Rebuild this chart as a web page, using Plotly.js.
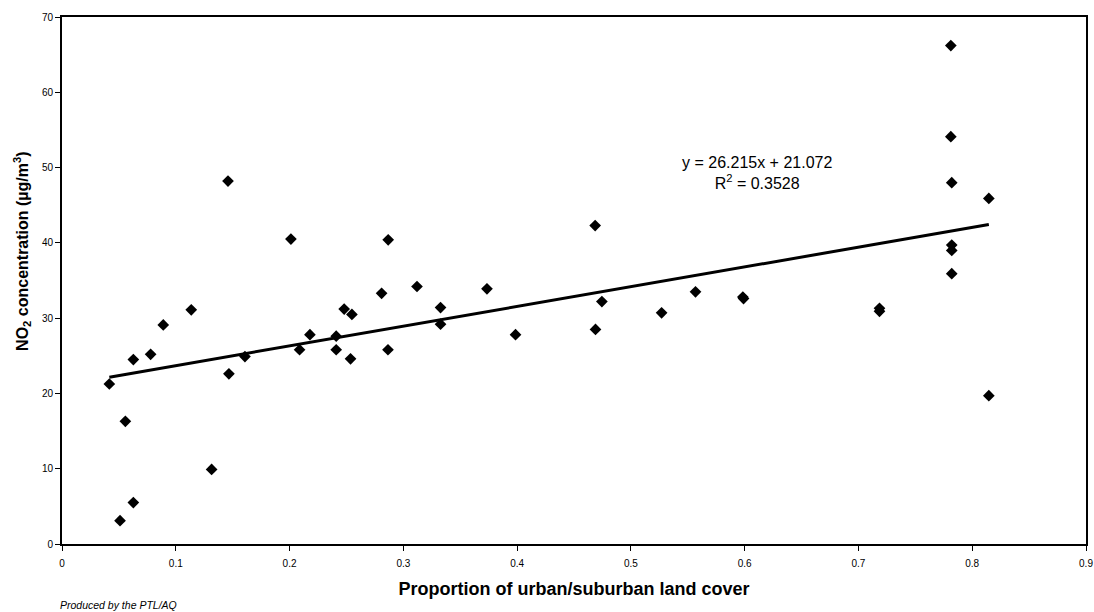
<!DOCTYPE html>
<html>
<head>
<meta charset="utf-8">
<script src="https://cdn.plot.ly/plotly-3.0.1.min.js"></script>
<style>html,body{margin:0;padding:0;background:#fff;}#chart{width:1094px;height:612px;}</style>
</head>
<body>
<div id="chart"></div>
<script>
// Proportion of urban/suburban land cover
const urbanProportion = [0.0416, 0.051, 0.0557, 0.0627, 0.0627, 0.0779, 0.089, 0.1136, 0.1315, 0.1459,
  0.1467, 0.1608, 0.2012, 0.2088, 0.2179, 0.241, 0.241, 0.248, 0.2536, 0.2548,
  0.2809, 0.2865, 0.2867, 0.312, 0.3327, 0.3327, 0.3735, 0.3986, 0.4686, 0.4689,
  0.4745, 0.527, 0.5568, 0.5984, 0.599, 0.7185, 0.7185, 0.7812, 0.7812, 0.782,
  0.782, 0.782, 0.782, 0.8146, 0.8146];
// NO2 concentration (µg/m3)
const no2Concentration = [21.25, 3.1, 16.3, 5.5, 24.5, 25.2, 29.1, 31.1, 9.9, 48.2,
  22.6, 24.9, 40.5, 25.8, 27.8, 27.6, 25.8, 31.2, 24.6, 30.5,
  33.3, 25.8, 40.4, 34.2, 31.4, 29.2, 33.9, 27.8, 42.3, 28.5,
  32.2, 30.7, 33.5, 32.8, 32.6, 31.3, 30.9, 66.2, 54.1, 48.0,
  39.7, 39.0, 35.9, 45.9, 19.7];
// Linear trendline as printed on the chart
const trendSlope = 26.215;
const trendIntercept = 21.072;
const rSquared = 0.3528;
const xTickVals = [0, 0.1, 0.2, 0.3, 0.4, 0.5, 0.6, 0.7, 0.8, 0.9];
const xTickText = ["0", "0.1", "0.2", "0.3", "0.4", "0.5", "0.6", "0.7", "0.8", "0.9"];
const yTickVals = [0, 10, 20, 30, 40, 50, 60, 70];

const xMin = Math.min(...urbanProportion);
const xMax = Math.max(...urbanProportion);
const trendX = [xMin, xMax];
const trendY = trendX.map(v => trendSlope * v + trendIntercept);

const traces = [
  {
    x: urbanProportion, y: no2Concentration, type: 'scatter', mode: 'markers',
    marker: {symbol: 'diamond', size: 9, color: '#000'}, hoverinfo: 'x+y'
  },
  {
    x: trendX, y: trendY, type: 'scatter', mode: 'lines',
    line: {color: '#000', width: 3}, hoverinfo: 'skip'
  }
];

const fam = 'Arial, Liberation Sans, sans-serif';
const tickFont = {family: fam, size: 10, color: '#000'};
const layout = {
  width: 1094, height: 612,
  margin: {l: 62, r: 8, t: 17, b: 68},
  paper_bgcolor: '#fff', plot_bgcolor: '#fff',
  showlegend: false,
  font: {family: fam, color: '#000'},
  xaxis: {
    range: [0, 0.9], tickmode: 'array', tickvals: xTickVals, ticktext: xTickText,
    showgrid: false, zeroline: false, showline: true, linecolor: '#000', linewidth: 2,
    mirror: true, ticks: 'outside', ticklen: 5, tickwidth: 1, tickcolor: '#000',
    tickfont: tickFont, ticklabelstandoff: 4,
    title: {text: '<b>Proportion of urban/suburban land cover</b>', font: {size: 18, color: '#000'}, standoff: 14}
  },
  yaxis: {
    range: [0, 70], tickmode: 'array', tickvals: yTickVals,
    showgrid: false, zeroline: false, showline: true, linecolor: '#000', linewidth: 2,
    mirror: true, ticks: 'outside', ticklen: 5, tickwidth: 1, tickcolor: '#000',
    tickfont: tickFont
  },
  annotations: [
    {
      x: 0, y: 38.8, xref: 'paper', yref: 'y', xanchor: 'center', yanchor: 'middle',
      xshift: -40, showarrow: false, textangle: -90,
      text: '<b>NO<sub>2</sub> concentration (µg/m<sup>3</sup>)</b>',
      font: {size: 16, color: '#000', family: fam}
    },
    {
      x: 0.611, y: 49.3, xref: 'x', yref: 'y', showarrow: false, align: 'center',
      text: 'y = 26.215x + 21.072<br>R<sup>2</sup> = ' + rSquared.toFixed(4),
      font: {size: 16, color: '#000', family: fam}
    },
    {
      x: 0, y: 0, xref: 'paper', yref: 'paper', xanchor: 'left', yanchor: 'top',
      xshift: -4, yshift: -53, showarrow: false,
      text: '<i>Produced by the PTL/AQ</i>',
      font: {size: 10.5, color: '#000', family: fam}
    }
  ]
};

Plotly.newPlot('chart', traces, layout, {displayModeBar: false, staticPlot: true});
</script>
</body>
</html>
